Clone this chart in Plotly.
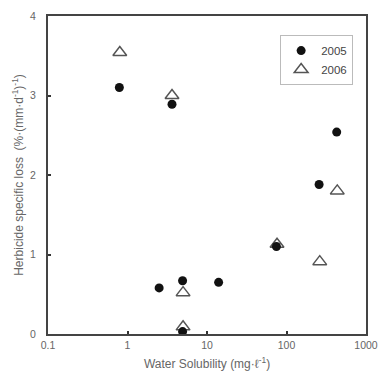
import plotly.graph_objects as go

x2005 = [0.79, 3.63, 2.5, 4.93, 14.0, 74.7, 257, 428, 4.93]
y2005 = [3.10, 2.89, 0.58, 0.67, 0.65, 1.10, 1.88, 2.54, 0.03]
x2006 = [0.80, 3.63, 5.0, 5.0, 76, 262, 435]
y2006 = [3.54, 3.00, 0.52, 0.09, 1.13, 0.91, 1.80]

xticks = [0.1, 1, 10, 100, 1000]
xticklabels = ["0.1", "1", "10", "100", "1000"]
yticks = [0, 1, 2, 3, 4]

grey = "#666666"
fig = go.Figure()
fig.add_trace(go.Scatter(x=x2006, y=y2006, mode="markers", name="2006",
                         marker=dict(symbol="triangle-up-open", size=12, color="#555555",
                                     line=dict(width=1.5, color="#555555"))))
fig.add_trace(go.Scatter(x=x2005, y=y2005, mode="markers", name="2005",
                         marker=dict(symbol="circle", size=9, color="#111111")))

fig.update_layout(
    width=388, height=379,
    margin=dict(l=48, r=10, t=15, b=45),
    paper_bgcolor="white", plot_bgcolor="white",
    font=dict(family="Liberation Sans, Arial", color=grey, size=10),
    legend=dict(x=0.73, y=0.94, xanchor="left", yanchor="top",
                traceorder="reversed", bordercolor="#bbbbbb", borderwidth=1,
                font=dict(size=11.5, color="#444444"), bgcolor="white",
                itemwidth=30, tracegroupgap=0),
    showlegend=True,
)
fig.update_xaxes(type="log", range=[-1, 3], tickvals=xticks, ticktext=xticklabels,
                 ticks="inside", ticklen=3, tickwidth=1.5, tickcolor="#333333",
                 showline=True, linecolor="#444444", linewidth=2, mirror=True,
                 showgrid=False, zeroline=False, tickfont=dict(size=10.5),
                 title=dict(text="Water Solubility (mg·ℓ<sup>-1</sup>)", font=dict(size=12, color=grey), standoff=10))
fig.update_yaxes(range=[0, 4], tickvals=yticks,
                 ticks="inside", ticklen=3, tickwidth=1.5, tickcolor="#333333",
                 showline=True, linecolor="#444444", linewidth=2, mirror=True,
                 showgrid=False, zeroline=False, tickfont=dict(size=10.5),
                 ticklabelstandoff=8,
                 title=dict(text="Herbicide specific loss  (%·(mm·d<sup>-1</sup>)<sup>-1</sup>)",
                            font=dict(size=12, color=grey), standoff=4))
fig.write_html("out.html")
